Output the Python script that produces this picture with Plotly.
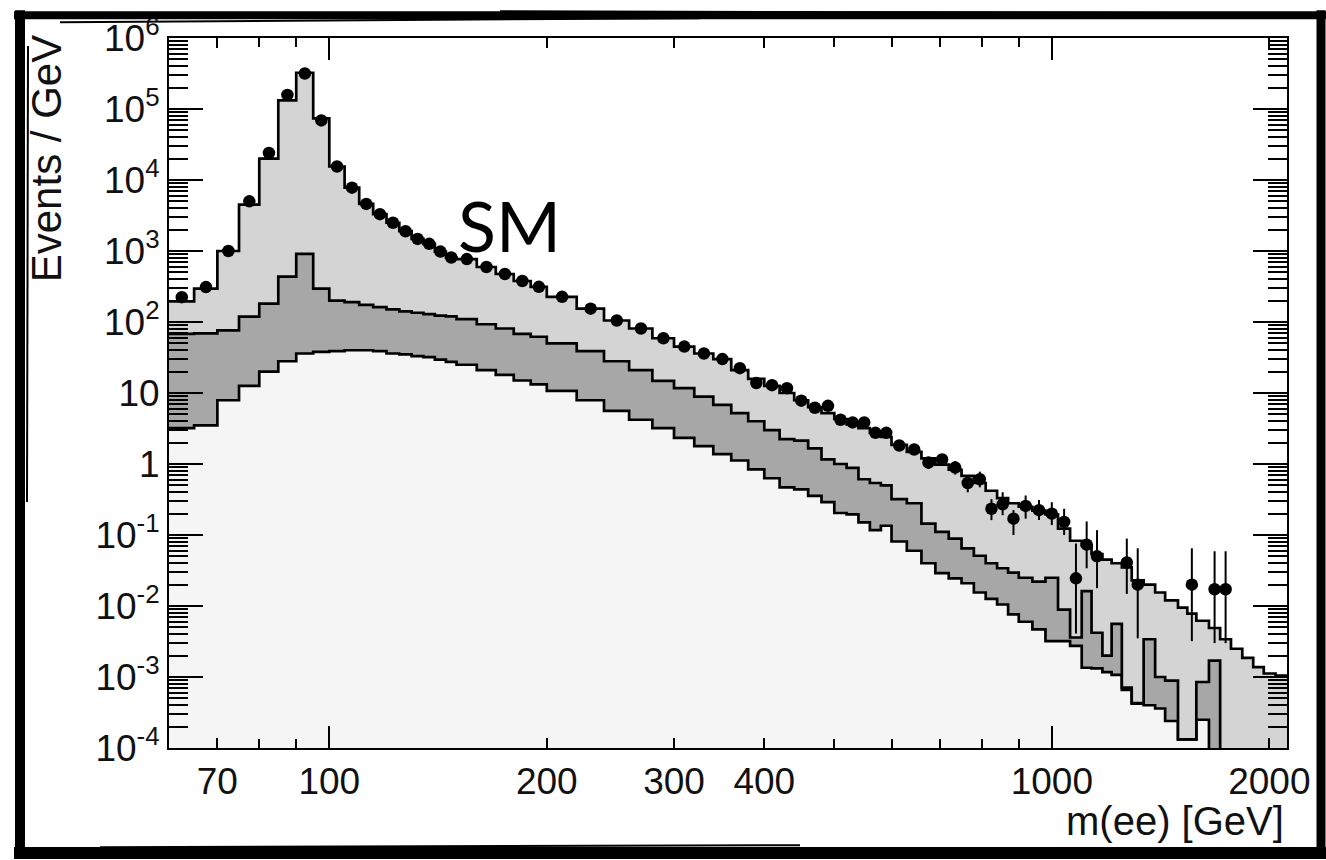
import numpy as np
import plotly.graph_objects as go

# bin edges in GeV (same binning for MC stack and data)
edges = [60, 65, 70, 75, 80, 85, 90, 95, 100, 105, 110, 115, 120, 125, 130, 135, 140, 145, 150,
         160, 170, 180, 190, 200, 220, 240, 260, 280, 300, 320, 340, 360, 380, 400, 420, 440,
         460, 480, 500, 520, 540, 560, 580, 600, 630, 660, 690, 720, 750, 780, 810, 840, 870,
         900, 940, 980, 1020, 1060, 1100, 1135, 1175, 1210, 1250, 1290, 1340, 1390, 1435, 1495,
         1540, 1585, 1650, 1710, 1770, 1835, 1900, 1965, 2040, 2120]

# stacked levels, events / GeV
sm_total = [195, 295, 1000, 4500, 2.0e4, 1.32e5, 3.24e5, 7.4e4, 1.55e4, 7800,
            4600, 3300, 2500, 1900, 1480, 1260, 980, 810, 770, 595,
            474, 378, 313, 226, 154, 105, 81, 59, 45, 36,
            30, 21, 15.8, 12.6, 10, 7.9, 6.3, 5.2, 4.3, 3.6,
            3.2, 2.75, 2.4, 1.86, 1.48, 1.20, 0.98, 0.83, 0.68, 0.54,
            0.42, 0.33, 0.28, 0.25, 0.22, 0.195, 0.123, 0.083, 0.072, 0.054,
            0.045, 0.040, 0.035, 0.023, 0.020, 0.0155, 0.012, 0.0095, 0.0078, 0.0062,
            0.0049, 0.0034, 0.0025, 0.00186, 0.00138, 0.00112, 0.00105]

mid_stack = [68, 69, 76, 119, 182, 437, 912, 295, 200, 190,
             174, 162, 151, 141, 135, 129, 123, 120, 110, 93,
             81, 68, 62, 50, 39, 28, 21, 14.8, 11.7, 8.9,
             6.8, 5.2, 4.0, 3.0, 2.24, 2.14, 1.66, 1.16, 1.0, 0.88,
             0.61, 0.54, 0.50, 0.32, 0.28, 0.145, 0.111, 0.089, 0.065, 0.051,
             0.040, 0.034, 0.0295, 0.025, 0.022, 0.025, 0.0089, 0.0036, 0.0162, 0.0042,
             0.0020, 0.0056, 0.00071, 0.00043, 0.0034, 0.0010, 0.00089, 0.000132, 0.000132, 0.00085,
             0.0017, 0, 0, 0, 0, 0, 0]

low_stack = [3.2, 3.5, 7.9, 12.6, 20, 28, 36, 38, 39, 40,
             40, 39, 36, 35, 33, 32, 29.5, 27.5, 25, 21,
             18, 15, 13.2, 10.7, 7.9, 5.6, 4.2, 3.2, 2.34, 1.78,
             1.38, 1.12, 0.84, 0.63, 0.47, 0.44, 0.355, 0.29, 0.204, 0.195,
             0.151, 0.117, 0.135, 0.081, 0.060, 0.040, 0.029, 0.0245, 0.0209, 0.0155,
             0.0126, 0.0105, 0.0076, 0.0060, 0.0047, 0.0032, 0.0032, 0.00275, 0.00135, 0.00132,
             0.00117, 0.00107, 0.00066, 0.00042, 0.00040, 0.00036, 0.00024, 0.000132, 0.000132, 0.00025,
             0, 0, 0, 0, 0, 0, 0]

# data points per bin (None = empty bin) and ends of the error bars
data_vals = [224, 310, 1000, 5000, 2.4e4, 1.58e5, 3.16e5, 6.9e4, 1.55e4, 7800,
             4600, 3300, 2500, 1900, 1480, 1260, 980, 810, 770, 595,
             474, 378, 313, 226, 154, 105, 81, 59, 45, 36,
             30, 22.4, 13.8, 12.9, 11.7, 7.8, 6.2, 6.6, 4.2, 3.85,
             3.85, 2.75, 2.75, 1.82, 1.6, 1.05, 1.16, 0.89, 0.54, 0.61,
             0.234, 0.27, 0.17, 0.257, 0.224, 0.20, 0.153, 0.0245, 0.073, 0.050,
             None, None, 0.041, 0.020, None, None, None, None, 0.020, None,
             0.0172, 0.0172, None, None, None, None, None]
data_hi = [None] * 43 + [2.09, 1.86, 1.26, 1.38, 1.10, 0.69, 0.78,
                         0.32, 0.40, 0.224, 0.36, 0.31, 0.29, 0.234, 0.076, 0.155, 0.117,
                         None, None, 0.089, 0.065, None, None, None, None, 0.065, None,
                         0.059, 0.059, None, None, None, None, None]
data_lo = [None] * 43 + [1.55, 1.35, 0.85, 0.955, 0.71, 0.40, 0.47,
                         0.162, 0.19, 0.10, 0.17, 0.162, 0.138, 0.10, 0.0041, 0.034, 0.0178,
                         None, None, 0.0148, 0.0035, None, None, None, None, 0.0032, None,
                         0.0030, 0.0030, None, None, None, None, None]

x_ticks = [70, 100, 200, 300, 400, 1000, 2000]
x_minor = [80, 90, 500, 600, 700, 800, 900]
x_long = [100, 1000]
y_ticks = [10.0 ** e for e in range(-4, 7)]
y_text = ['10<sup>-4</sup>', '10<sup>-3</sup>', '10<sup>-2</sup>', '10<sup>-1</sup>', '1', '10',
          '10<sup>2</sup>', '10<sup>3</sup>', '10<sup>4</sup>', '10<sup>5</sup>', '10<sup>6</sup>']
y_minor = [m * 10.0 ** e for e in range(-4, 6) for m in range(2, 10)]

floor = 1e-5  # empty bins fall below the axis
xrange = [np.log10(60), np.log10(2116)]


def step(vals):
    v = [a if a > 0 else floor for a in vals]
    return v + [v[-1]]


fig = go.Figure()
fig.add_trace(go.Scatter(x=edges, y=[floor] * len(edges), mode='lines',
                         line=dict(width=0, shape='hv'), hoverinfo='skip'))
for vals, col in [(low_stack, '#f5f5f5'), (mid_stack, '#a7a7a7'), (sm_total, '#d4d4d4')]:
    fig.add_trace(go.Scatter(x=edges, y=step(vals), mode='lines', fill='tonexty', fillcolor=col,
                             line=dict(color='black', width=2.7, shape='hv')))

centers = [(a + b) / 2 for a, b in zip(edges[:-1], edges[1:])]
px, py, eup, edn = [], [], [], []
for c, v, hi, lo in zip(centers, data_vals, data_hi, data_lo):
    if v is None:
        continue
    px.append(c)
    py.append(v)
    eup.append(hi - v if hi else 0)
    edn.append(v - lo if lo else 0)
fig.add_trace(go.Scatter(x=px, y=py, mode='markers', marker=dict(color='black', size=12.5),
                         error_y=dict(type='data', symmetric=False, array=eup, arrayminus=edn,
                                      color='black', thickness=2, width=0)))
# dummy trace so the overlay axis with the long ticks gets drawn
fig.add_trace(go.Scatter(x=[100], y=[floor], xaxis='x2', mode='none', hoverinfo='skip'))

tick_font = dict(family='Liberation Sans', size=37, color='#111')
fig.update_layout(
    width=1326, height=860, margin=dict(l=169, r=39, t=32, b=112),
    paper_bgcolor='white', plot_bgcolor='white', showlegend=False,
    xaxis=dict(type='log', range=xrange, tickvals=x_ticks, ticktext=[str(t) for t in x_ticks],
               ticks='inside', ticklen=10, tickwidth=2, tickcolor='black',
               showline=True, linecolor='black', linewidth=2, mirror='ticks',
               showgrid=False, zeroline=False, tickfont=tick_font,
               minor=dict(tickvals=x_minor, ticks='inside', ticklen=9, tickwidth=2,
                          tickcolor='black', showgrid=False)),
    xaxis2=dict(type='log', range=xrange, overlaying='x', anchor='y', side='bottom',
                tickvals=x_long, ticks='inside', ticklen=22, tickwidth=2, tickcolor='black',
                showticklabels=False, showgrid=False, showline=False, mirror='ticks'),
    yaxis=dict(type='log', range=[-4, 6], tickvals=y_ticks, ticktext=y_text,
               ticks='inside', ticklen=34, tickwidth=2, tickcolor='black',
               showline=True, linecolor='black', linewidth=2, mirror='ticks',
               showgrid=False, zeroline=False, tickfont=tick_font,
               minor=dict(tickvals=y_minor, ticks='inside', ticklen=19, tickwidth=1.5,
                          tickcolor='black', showgrid=False)),
)

fig.add_annotation(text='Events / GeV', xref='paper', yref='paper', x=-0.110, y=1.006,
                   xanchor='center', yanchor='top', textangle=-90, showarrow=False,
                   font=dict(family='Liberation Sans', size=42, color='#111'))
fig.add_annotation(text='m(ee) [GeV]', xref='paper', yref='paper', x=0.999, y=-0.103,
                   xanchor='right', yanchor='middle', showarrow=False,
                   font=dict(family='Liberation Sans', size=40, color='#111'))
fig.add_annotation(text='SM', xref='paper', yref='paper', x=0.2565, y=0.737,
                   xanchor='left', yanchor='middle', showarrow=False,
                   font=dict(family='Lato', size=70, color='black'))


# rough hand-drawn frame round the whole picture
def P(xp, yp):
    return (xp - 169) / 1118, (748 - yp) / 716


frame = [((20, 4), (20, 860), 10), ((1321, 4), (1321, 860), 9),
         ((14, 9), (1326, 9), 8), ((14, 854), (1326, 854), 12),
         ((60, 16), (700, 12), 2), ((500, 5), (1300, 7), 2), ((28, 40), (27, 500), 2),
         ((100, 848), (800, 846), 2)]
for (xa, ya), (xb, yb), w in frame:
    x0, y0 = P(xa, ya)
    x1, y1 = P(xb, yb)
    fig.add_shape(type='line', xref='paper', yref='paper', x0=x0, y0=y0, x1=x1, y1=y1,
                  line=dict(color='black', width=w))

# page body has a default 8px margin; drop it so the figure fills the window
fig.write_html('out.html', config={'displayModeBar': False},
               post_script="document.body.style.margin='0';")
